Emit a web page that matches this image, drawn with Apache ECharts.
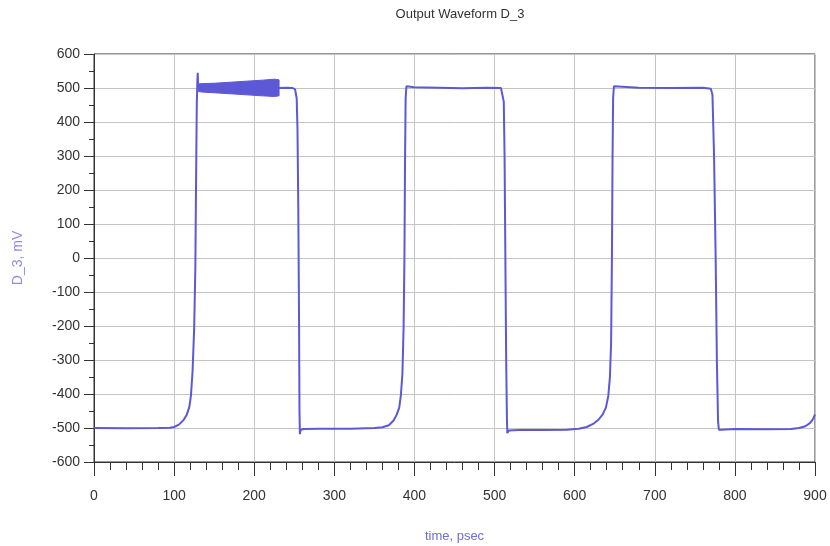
<!DOCTYPE html>
<html>
<head>
<meta charset="utf-8">
<script src="https://cdn.jsdelivr.net/npm/echarts@6/dist/echarts.min.js"></script>
<style>
  html, body { margin: 0; padding: 0; background: #fff; }
  #chart { width: 830px; height: 546px; }
</style>
</head>
<body>
<div id="chart"></div>
<script>
// time axis (psec) and output voltage (mV)
const timePs = [
  0, 40, 80, 95, 100, 106, 112, 116, 119, 121, 123, 125, 126.5, 127.5, 128.3, 129, 129.5, 130,
  131, 231,
  232, 240, 248, 251, 253, 254, 255, 256, 256.5, 257, 258, 262, 280, 320, 350, 360, 368, 374,
  378, 381, 383, 385, 386.5, 387.5, 388.3, 389, 390, 392, 400, 430, 460, 490, 508, 510,
  511.5, 512.5, 513.5, 514.5, 515.5, 516, 518, 530, 560, 590, 605, 615, 623, 630, 635, 639,
  642, 644, 645.5, 646.5, 647.3, 648, 649, 651, 680, 720, 760, 770, 772, 774, 776, 777.5,
  779, 780, 783, 800, 840, 870, 880, 888, 894, 898, 900
];
const d3Mv = [
  -500, -501, -500, -499, -497, -490, -476, -460, -438, -405, -335, -210, -30, 250, 450, 520, 545, 500,
  502, 500,
  502, 501, 500, 496, 470, 380, 150, -200, -450, -518, -505, -503, -502, -502, -500, -498, -492, -478,
  -460, -440, -405, -340, -200, 0, 300, 470, 505, 500, 502, 501, 499, 501, 500, 496,
  460, 300, 0, -300, -480, -515, -507, -506, -506, -505, -502, -497, -488, -475, -460, -440,
  -405, -350, -250, 0, 300, 470, 505, 500, 501, 500, 501, 498, 480, 300, 0, -300,
  -480, -505, -505, -503, -504, -503, -500, -495, -485, -472, -460
];
// ringing envelope on the first pulse top
const ringTime = [130, 135, 150, 170, 190, 210, 225, 231];
const ringHigh = [512, 513, 514, 517, 520, 523, 526, 524];
const ringLow = [490, 488, 486, 483, 480, 477, 475, 477];

const xTicks = [0, 100, 200, 300, 400, 500, 600, 700, 800, 900];
const yTicks = [-600, -500, -400, -300, -200, -100, 0, 100, 200, 300, 400, 500, 600];

const chart = echarts.init(document.getElementById('chart'));
const tickFont = "'Liberation Sans Narrow', 'Liberation Sans', Arial, sans-serif";
const traceColor = '#5c58d6';

chart.setOption({
  animation: false,
  backgroundColor: '#fff',
  title: {
    text: 'Output Waveform D_3',
    left: 455,
    top: 3,
    textAlign: 'center',
    textStyle: { color: '#333', fontSize: 13, fontWeight: 'normal', fontFamily: tickFont }
  },
  grid: {
    left: 94, right: 15, top: 54, bottom: 84,
    outerBoundsMode: 'none',
    containLabel: false,
    show: true, borderColor: '#333', borderWidth: 1, backgroundColor: 'transparent'
  },
  xAxis: {
    type: 'value',
    min: xTicks[0],
    max: xTicks[xTicks.length - 1],
    interval: 100,
    name: 'time, psec',
    nameLocation: 'middle',
    nameGap: 68,
    nameTextStyle: { color: '#6f6be0', fontSize: 13, fontFamily: tickFont },
    axisLine: { show: true, onZero: false, lineStyle: { color: '#333', width: 1 } },
    axisTick: { show: true, inside: false, length: 14, lineStyle: { color: '#333' } },
    minorTick: { show: true, splitNumber: 5, length: 8, lineStyle: { color: '#333' } },
    axisLabel: { color: '#333', fontSize: 14, margin: 27, fontFamily: tickFont },
    splitLine: { show: true, lineStyle: { color: '#c4c4c4', width: 1 } }
  },
  yAxis: {
    type: 'value',
    min: yTicks[0],
    max: yTicks[yTicks.length - 1],
    interval: 100,
    name: 'D_3, mV',
    nameLocation: 'middle',
    nameGap: 69,
    nameRotate: 90,
    nameTextStyle: { color: '#8f8be6', fontSize: 14, fontFamily: tickFont },
    axisLine: { show: true, onZero: false, lineStyle: { color: '#333', width: 1 } },
    axisTick: { show: true, inside: false, length: 10, lineStyle: { color: '#333' } },
    minorTick: { show: true, splitNumber: 2, length: 5, lineStyle: { color: '#333' } },
    axisLabel: { color: '#333', fontSize: 14, margin: 14, fontFamily: tickFont },
    splitLine: { show: true, lineStyle: { color: '#c4c4c4', width: 1 } }
  },
  series: [
    {
      name: 'D_3',
      type: 'line',
      data: timePs.map((t, i) => [t, d3Mv[i]]),
      showSymbol: false,
      clip: true,
      lineStyle: { color: traceColor, width: 2 }
    },
    {
      name: 'ringing',
      type: 'custom',
      data: [0],
      renderItem: (params, api) => {
        const top = ringTime.map((t, i) => api.coord([t, ringHigh[i]]));
        const bottom = ringTime.map((t, i) => api.coord([t, ringLow[i]])).reverse();
        return {
          type: 'polygon',
          shape: { points: top.concat(bottom) },
          style: { fill: traceColor, stroke: traceColor, lineWidth: 1 }
        };
      }
    }
  ]
});
</script>
</body>
</html>
